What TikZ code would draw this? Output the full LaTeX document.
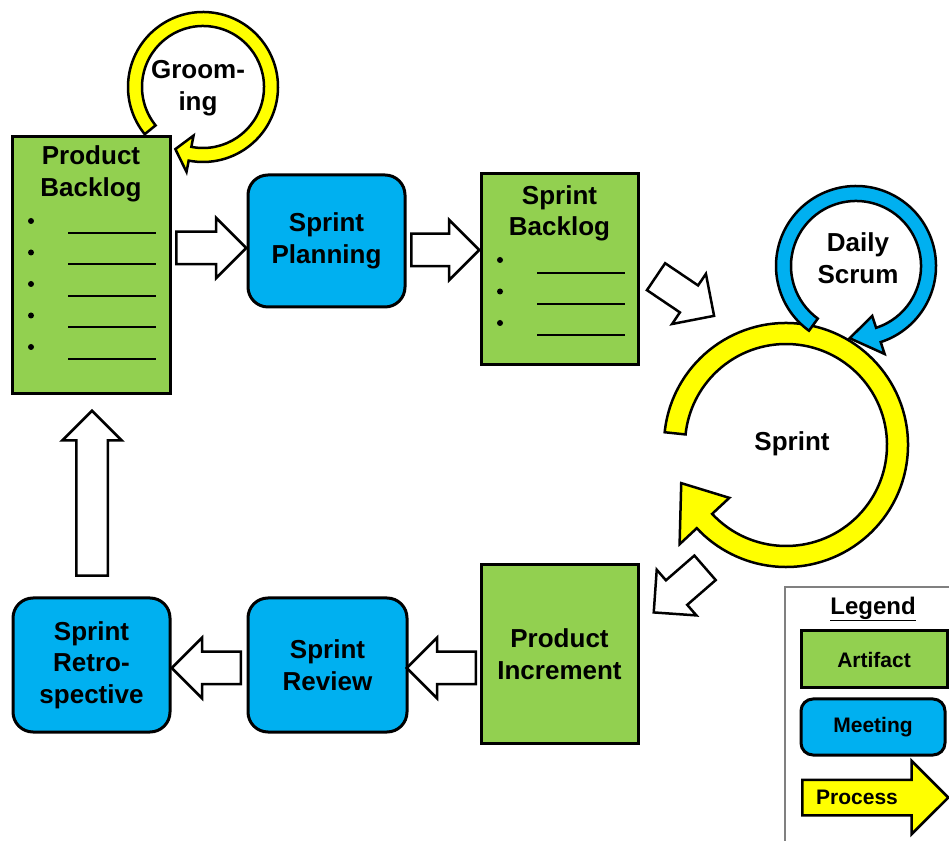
\documentclass[tikz,border=0pt]{standalone}
\usepackage{fontspec}
\setmainfont{Liberation Sans}
\usetikzlibrary{shapes.arrows,positioning,calc}

\definecolor{artifactgreen}{HTML}{92D050}
\definecolor{meetingblue}{HTML}{00B0F0}
\definecolor{processyellow}{HTML}{FFFF00}

% [style]{centre}{mid radius}{half width}{start}{end}{tip angle}{head half width}
\newcommand\ringarrow[8][]{%
  \filldraw[ring,#1] ($(#2)+({#5}:{#3+#4})$) arc[start angle=#5, end angle=#6, radius={#3+#4}]
    -- ($(#2)+({#6}:{#3+#8})$) -- ($(#2)+({#7}:{#3})$) -- ($(#2)+({#6}:{#3-#8})$)
    -- ($(#2)+({#6}:{#3-#4})$) arc[start angle=#6, end angle=#5, radius={#3-#4}] -- cycle;}

\begin{document}
\begin{tikzpicture}[x=1pt,y=1pt,
  every node/.append style={font=\bfseries\fontsize{26}{31.5}\selectfont, align=center},
  artifact/.style={draw, line width=3pt, fill=artifactgreen, inner sep=0pt},
  meeting/.style={draw, line width=3pt, fill=meetingblue, rounded corners=20pt, inner sep=0pt},
  flow/.style={single arrow, draw, line width=2.5pt, fill=white, inner xsep=0pt, inner ysep=15pt,
    minimum width=58pt, single arrow head extend=14pt, single arrow tip angle=90, anchor=tail},
  ring/.style={draw, line width=2.5pt},
  item/.style={line width=2pt},
  dot/.style={circle, fill, inner sep=0pt, minimum size=6pt},
  legendtext/.style={font=\bfseries\fontsize{21}{25}\selectfont}]

  \path[clip, use as bounding box] (0,0) rectangle (949,840);

  % artifacts
  \node[artifact, minimum width=158pt, minimum height=257pt] (pb) at (91,574.5) {};
  \node (pbtitle) at (91,666) {Product\\Backlog};
  \foreach \i in {0,...,4} {
    \node[dot] (pbdot\i) at (31,619-31.5*\i) {};
    \draw[item] (68,607-31.5*\i) -- (156,607-31.5*\i);
  }
  \node[artifact, minimum width=157pt, minimum height=191pt] (sb) at (559.5,570.5) {};
  \node (sbtitle) at (559.5,626.5) {Sprint\\Backlog};
  \foreach \i in {0,...,2} {
    \node[dot] (sbdot\i) at (500,580-31.5*\i) {};
    \draw[item] (537,567-31*\i) -- (625,567-31*\i);
  }
  \node[artifact, minimum width=157pt, minimum height=178pt] (pi) at (559.5,186) {Product\\Increment};

  % meetings
  \node[meeting, minimum width=157pt, minimum height=132pt] (sp) at (326.5,599) {Sprint\\Planning};
  \node[meeting, minimum width=159pt, minimum height=134pt] (sr) at (327.5,175) {Sprint\\Review};
  \node[meeting, minimum width=157pt, minimum height=134pt] (retro) at (91.5,175) {Sprint\\Retro-\\spective};

  % processes
  \coordinate (groom) at (203,753);
  \coordinate (sprint) at (786,395);
  \coordinate (daily) at (856,574);
  \ringarrow[fill=processyellow]{sprint}{111.5}{10.5}{174}{-137}{-160}{34}
  \ringarrow[fill=meetingblue]{daily}{72.5}{7.5}{234}{-72}{-95}{20}
  \ringarrow[fill=processyellow]{groom}{68}{7}{219}{-101}{-114}{18.5}
  \node (groomtext) at (198,752) {Groom-\\ing};
  \node (sprinttext) at (792,396) {Sprint};
  \node (dailytext) at (858,582) {Daily\\Scrum};

  % flow
  \node[flow, minimum height=70pt] (pb2sp) at (175,592) {};
  \node[flow, minimum height=68pt] (sp2sb) at (410,590) {};
  \node[flow, minimum height=70pt, rotate=-34] (sb2run) at (655,564) {};
  \node[flow, minimum height=68pt, rotate=221] (run2pi) at (706,273) {};
  \node[flow, minimum height=69pt, rotate=180] (pi2sr) at (477,172) {};
  \node[flow, minimum height=69pt, rotate=180] (sr2retro) at (242,172) {};
  \node[flow, minimum height=165pt, inner ysep=14.5pt, minimum width=59pt, rotate=90] (retro2pb) at (92,263) {};

  % legend
  \draw[gray, line width=1.5pt] (785,253) rectangle (960,-10);
  \node[font=\bfseries\fontsize{24}{28}\selectfont] (legtitle) at (873,231) {\underline{Legend}};
  \node[artifact, legendtext, minimum width=146pt, minimum height=57pt] (legart) at (874,180.5) {Artifact};
  \node[meeting, legendtext, rounded corners=12pt, minimum width=144pt, minimum height=56pt] (legmeet) at (873,113) {Meeting};
  \node[flow, fill=processyellow, minimum height=146pt, minimum width=71pt, inner ysep=16.5pt,
    single arrow head extend=19pt] (legproc) at (801,42.5) {};
  \node[legendtext] (legproctext) at (857,42.5) {Process};
\end{tikzpicture}
\end{document}
